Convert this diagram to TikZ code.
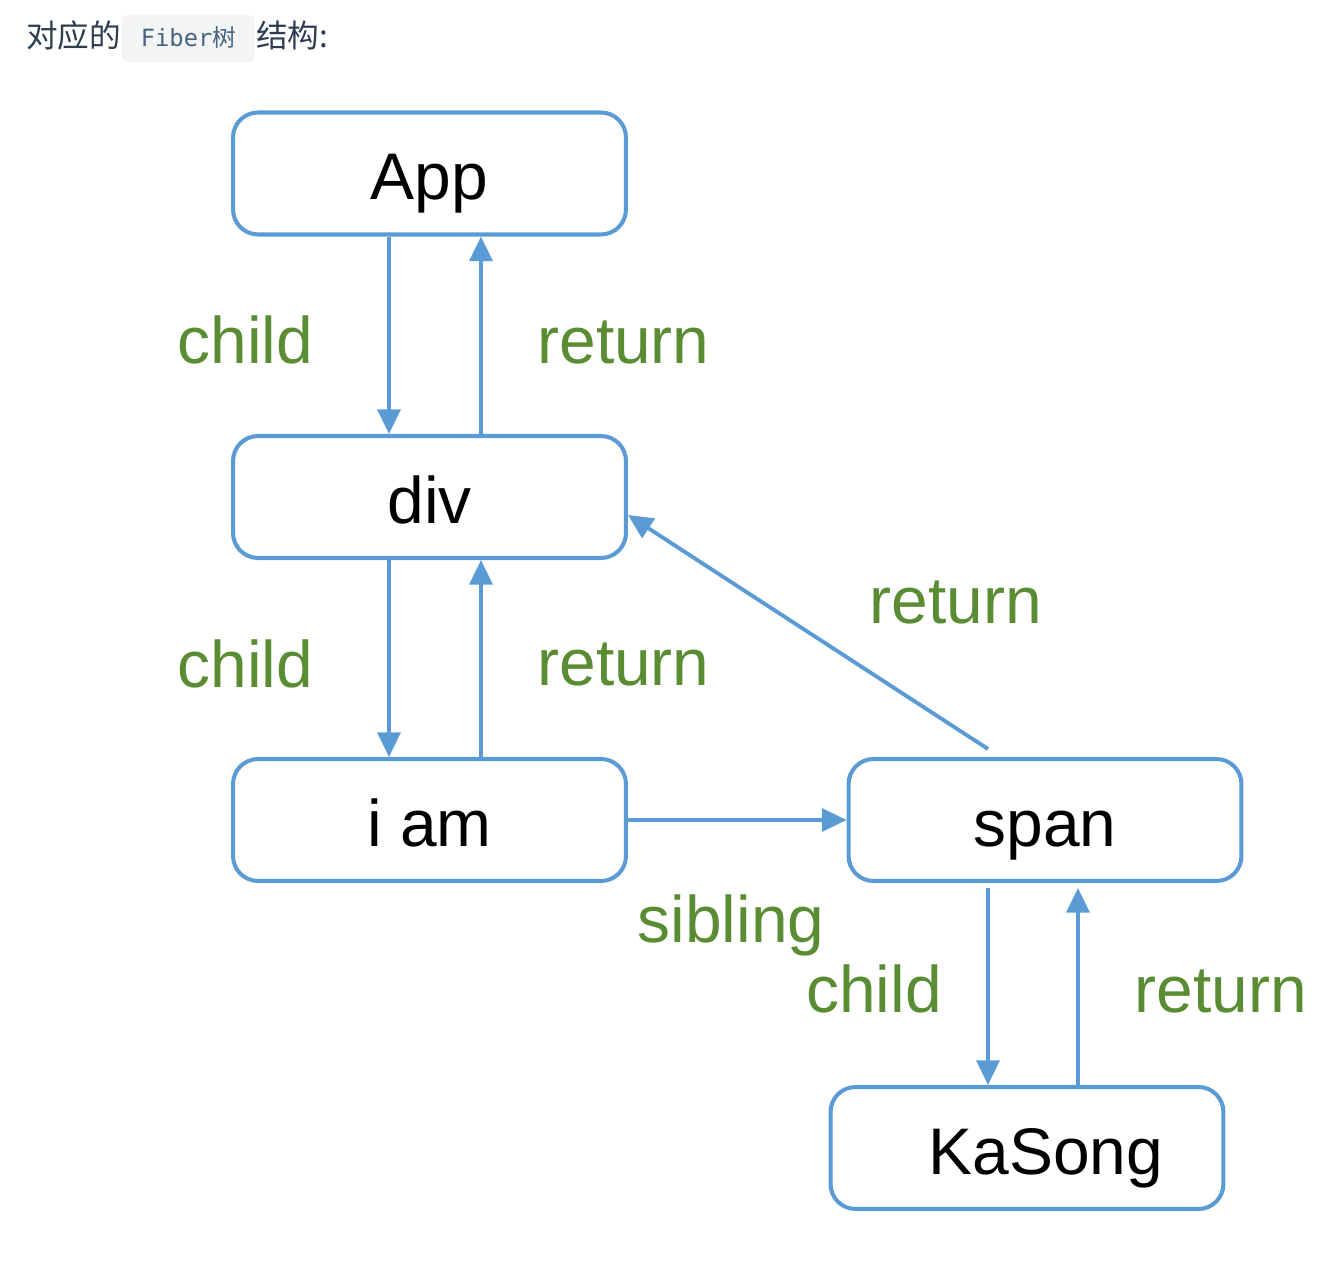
\documentclass[tikz,border=0pt]{standalone}
\usepackage{fontspec}
\usepackage{tikz}
\usetikzlibrary{arrows.meta, positioning, calc}
\setmainfont{Liberation Sans}
\newfontfamily\cjk{Noto Sans CJK SC}
\newfontfamily\codefont{DejaVu Sans Mono}
\definecolor{cfib}{HTML}{5B9BD5}
\definecolor{clink}{HTML}{5A8C33}
\definecolor{chead}{HTML}{2C3E50}
\definecolor{ccode}{HTML}{476582}
\definecolor{cchip}{HTML}{F3F4F4}

\begin{document}
\begin{tikzpicture}[x=0.02cm, y=-0.02cm,
  fib/.style={draw=cfib, line width=2.3pt, rounded corners=0.5cm,
              minimum width=7.86cm, minimum height=2.44cm,
              font=\fontsize{37.5}{45}\selectfont,
              text height=34pt, text depth=4pt, inner sep=0pt},
  arr/.style={-{Triangle[length=14pt, width=13pt]}, cfib, line width=2.2pt},
  lnk/.style={text=clink, font=\fontsize{37.5}{45}\selectfont,
              anchor=base, inner sep=0pt}
]
\useasboundingbox (0,0) rectangle (1340,1263);

%% ── Heading line
\node[fill=cchip, rounded corners=3pt, minimum width=2.66cm,
      minimum height=0.94cm, inner sep=0pt] (chip) at (188.5,38.5) {};
\node[anchor=base west, inner sep=0pt, text=chead,
      font=\cjk\fontsize{18}{22}\selectfont] (hl) at (26,48) {对应的};
\node[anchor=base, inner sep=0pt, text=ccode,
      font=\fontsize{13.5}{16}\selectfont] (hc) at (188.5,47)
      {\codefont Fiber\cjk 树};
\node[anchor=base west, inner sep=0pt, text=chead,
      font=\cjk\fontsize{18}{22}\selectfont] (hr) at (256,48) {结构:};

%% ── Fiber nodes
\node[fib] (app)    at (429.5,173.5) {App};
\node[fib] (div)    at (429.5,497)   {div};
\node[fib] (iam)    at (429.5,820)   {i am};
\node[fib] (span)   at (1045,820)    {span};
\node[fib] (kasong) at (1027,1148)   {\hspace*{0.76cm}KaSong};

%% ── child / return pairs
\draw[arr] ([xshift=-0.81cm]app.south) -- ([xshift=-0.81cm]div.north);
\draw[arr] ([xshift=1.03cm]div.north) -- ([xshift=1.03cm]app.south);
\draw[arr] ([xshift=-0.81cm]div.south) -- ([xshift=-0.81cm]iam.north);
\draw[arr] ([xshift=1.03cm]iam.north) -- ([xshift=1.03cm]div.south);

\coordinate (sc) at ([xshift=-1.14cm, yshift=-0.1cm]span.south);
\coordinate (sr) at ([xshift=0.66cm, yshift=-0.1cm]span.south);
\draw[arr] (sc) -- (sc |- kasong.north);
\draw[arr] (sr |- kasong.north) -- (sr);

%% ── sibling and span return
\draw[arr] (iam.east) -- (span.west);
\draw[arr] ([xshift=-1.14cm, yshift=0.16cm]span.north) -- ([yshift=-0.36cm]div.east);

%% ── Link labels
\node[lnk] (c1) at (245.5,364)  {child};
\node[lnk] (r1) at (623.5,364)  {return};
\node[lnk] (c2) at (245.5,688)  {child};
\node[lnk] (r2) at (623.5,686)  {return};
\node[lnk] (r3) at (956,624)    {return};
\node[lnk] (sb) at (731,943)    {sibling};
\node[lnk] (c3) at (874,1012)   {child};
\node[lnk] (r4) at (1221,1012)  {return};

\end{tikzpicture}
\end{document}
